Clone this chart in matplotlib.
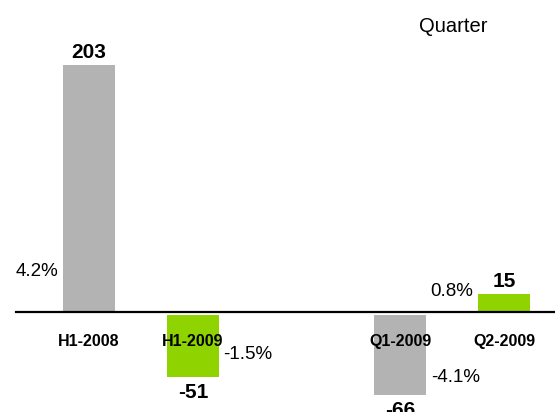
import matplotlib
matplotlib.use("Agg")
import matplotlib.pyplot as plt
from matplotlib import font_manager

# resultado por periodo (semestre e trimestre)
periodos = ["H1-2008", "H1-2009", "Q1-2009", "Q2-2009"]
valores = [203, -51, -66, 15]
margens = ["4.2%", "-1.5%", "-4.1%", "0.8%"]
cores = ["#b3b3b3", "#8fd400", "#b3b3b3", "#8fd400"]
posicoes = [0, 1, 3, 4]

nomes = {f.name for f in font_manager.fontManager.ttflist}
fonte_rotulo = "Liberation Sans Narrow" if "Liberation Sans Narrow" in nomes else "Liberation Sans"
tam_rotulo = 13 if fonte_rotulo == "Liberation Sans Narrow" else 11.5
plt.rcParams["font.family"] = ["Liberation Sans", "DejaVu Sans"]

fig = plt.figure(figsize=(5.55, 4.12), dpi=100)
ax = fig.add_axes([0, 0, 1, 1])
ax.set_xlim(-0.858, 4.49)
ax.set_ylim(-82.2, 256.5)
ax.axis("off")

folga = 2.5  # barras negativas comecam um pouco abaixo da linha base
for x, v, c, nome in zip(posicoes, valores, cores, periodos):
    base = -folga if v < 0 else 0
    ax.bar(x, v, width=0.5, bottom=base, color=c, zorder=2)
    if v >= 0:
        ax.annotate(f"{v}", (x, v), xytext=(0, 2), textcoords="offset points",
                    ha="center", va="bottom", fontsize=15, fontweight="bold")
    else:
        ax.annotate(f"{v}", (x, v + base), xytext=(0, -4), textcoords="offset points",
                    ha="center", va="top", fontsize=15, fontweight="bold")
    ax.text(x, -24, nome, ha="center", va="center",
            family=fonte_rotulo, fontsize=tam_rotulo, fontweight="bold", zorder=3)

ax.plot([-0.70, 4.6], [0, 0], color="black", lw=1.6, zorder=3, clip_on=False)

# margens ao lado de cada barra
ax.text(-0.30, 33, margens[0], ha="right", va="center", fontsize=13.5)
ax.text(1.29, -35, margens[1], ha="left", va="center", fontsize=13.5)
ax.text(3.30, -54, margens[2], ha="left", va="center", fontsize=13.5)
ax.text(3.70, 17, margens[3], ha="right", va="center", fontsize=13.5)

ax.text(3.51, 235, "Quarter", ha="center", va="center", fontsize=14.5)

fig.savefig("out.png", dpi=100)
